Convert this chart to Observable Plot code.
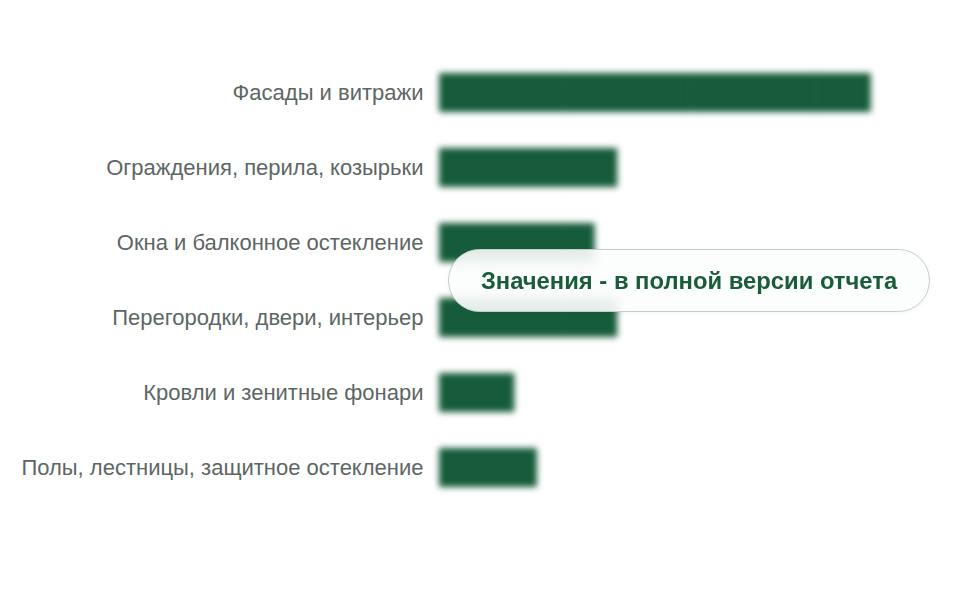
<!DOCTYPE html>
<html>
<head>
<meta charset="utf-8">
<script src="https://cdn.jsdelivr.net/npm/d3@7"></script>
<script src="https://cdn.jsdelivr.net/npm/@observablehq/plot@0.6"></script>
<style>
  html, body { margin: 0; padding: 0; background: #fff; }
  #wrap { position: relative; width: 960px; height: 600px; }
  #chart svg g[aria-label="bar"], #chart svg g[aria-label="rule"] { filter: blur(3.4px); }
  #pill {
    position: absolute; left: 448px; top: 249px; width: 482px; height: 63px;
    box-sizing: border-box; border-radius: 32px;
    border: 1.6px solid #c2cfc8;
    background: rgba(252,253,253,0.9);
    backdrop-filter: blur(5px);
    box-shadow: 0 1px 4px rgba(0,0,0,0.05);
    display: flex; align-items: center; justify-content: center;
    font-family: "Liberation Sans", Arial, sans-serif; font-weight: bold;
    font-size: 23.8px; color: #1a5c3a;
  }
</style>
</head>
<body>
<div id="wrap">
  <div id="chart"></div>
  <div id="pill">Значения - в полной версии отчета</div>
</div>
<script>
const categories = [
  "Фасады и витражи",
  "Ограждения, перила, козырьки",
  "Окна и балконное остекление",
  "Перегородки, двери, интерьер",
  "Кровли и зенитные фонари",
  "Полы, лестницы, защитное остекление"
];
const values = [34.4, 14.2, 12.4, 14.2, 6.0, 7.8];
const gridTicks = [10, 20, 30];

const data = categories.map((c, i) => ({category: c, value: values[i]}));

const chart = Plot.plot({
  width: 960,
  height: 600,
  marginTop: 36.5,
  marginBottom: 77.5,
  marginLeft: 439,
  marginRight: 19,
  style: {fontFamily: "'Liberation Sans', Arial, sans-serif", fontSize: "22px", color: "#5c6664", background: "transparent"},
  x: {domain: [0, 40], axis: null},
  y: {domain: categories, padding: 0.48, label: null, tickSize: 0, tickPadding: 16},
  marks: [
    Plot.barX(data, {x: "value", y: "category", fill: "#165c3a"}),
    Plot.ruleX(gridTicks, {stroke: "#dfe5e2", strokeOpacity: 0.06, strokeWidth: 1.5})
  ]
});
document.getElementById("chart").appendChild(chart);
</script>
</body>
</html>
